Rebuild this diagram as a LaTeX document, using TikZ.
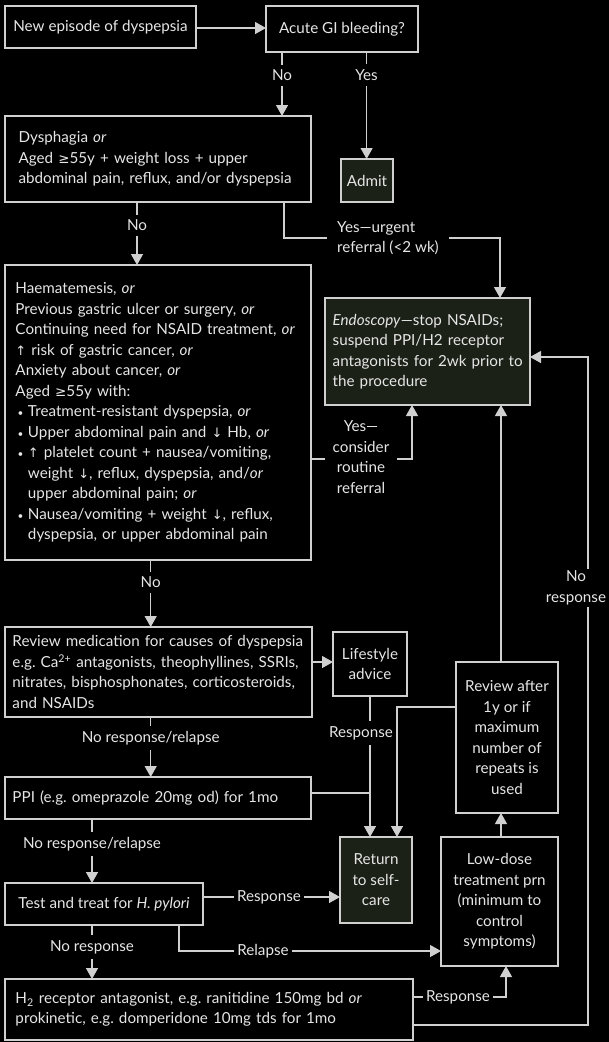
\documentclass[tikz,border=0pt]{standalone}
\usepackage{fontspec}
\setmainfont{Lato}
\newfontfamily\symf{DejaVu Sans}
\usetikzlibrary{arrows.meta}
\frenchspacing
\definecolor{ln}{HTML}{D0D0D0}
\definecolor{tx}{HTML}{E6E6E6}
\definecolor{grn}{HTML}{1B2117}
\newcommand{\upar}{{\symf\fontsize{13}{13}\selectfont ↑}}
\newcommand{\dnar}{{\symf\fontsize{13}{13}\selectfont ↓}}
\newcommand{\gesym}{{\symf\fontsize{13.5}{13.5}\selectfont ≥}}
\newcommand{\bul}{\makebox[12.5pt][l]{\hspace{2pt}{\fontsize{10}{10}\selectfont •}}}
\newcommand{\ind}{\hspace*{12.5pt}}
\tikzset{
  box/.style={draw=ln, line width=1.3pt, text=tx, outer sep=0pt, align=center,
    font=\fontsize{15.2}{20.5}\selectfont\frenchspacing},
  gbox/.style={box, fill=grn},
  lbl/.style={fill=black, text=tx, inner xsep=3pt, inner ysep=5pt,
    font=\fontsize{15.2}{20.5}\selectfont\frenchspacing},
  conn/.style={draw=ln, line width=1.3pt},
  arr/.style={conn, -{Triangle[length=11pt,width=12pt]}},
}
\begin{document}
\begin{tikzpicture}[x=1pt,y=-1pt]
\fill[black] (0,0) rectangle (609,1042);
\useasboundingbox (0,0) rectangle (609,1042);

% boxes
\node[box, minimum width=191pt, minimum height=42pt] (new) at (100.5,27) {New episode of dyspepsia};
\node[box, minimum width=152pt, minimum height=46pt] (acute) at (342,29) {Acute GI bleeding?};
\node[box, align=left, inner xsep=13.6pt, text width=278.8pt, minimum height=86pt] (dysph) at (158,159)
  {\mbox{Dysphagia \textit{or}}\\\mbox{Aged \gesym55y + weight loss + upper}\\\mbox{abdominal pain, reflux, and/or dyspepsia}};
\node[gbox, minimum width=52pt, minimum height=43pt, inner sep=0pt] (admit) at (367,180.5) {Admit};
\node[box, align=left, inner xsep=10.5pt, text width=285pt, minimum height=295pt] (haem) at (158,412.5)
  {\mbox{Haematemesis, \textit{or}}\\
   \mbox{Previous gastric ulcer or surgery, \textit{or}}\\
   \mbox{Continuing need for NSAID treatment, \textit{or}}\\
   \mbox{\upar{} risk of gastric cancer, \textit{or}}\\
   \mbox{Anxiety about cancer, \textit{or}}\\
   \mbox{Aged \gesym55y with:}\\
   \mbox{\bul Treatment-resistant dyspepsia, \textit{or}}\\
   \mbox{\bul Upper abdominal pain and \dnar{} Hb, \textit{or}}\\
   \mbox{\bul \upar{} platelet count + nausea/vomiting,}\\
   \mbox{\ind weight \dnar, reflux, dyspepsia, and/\textit{or}}\\
   \mbox{\ind upper abdominal pain; \textit{or}}\\
   \mbox{\bul Nausea/vomiting + weight \dnar, reflux,}\\
   \mbox{\ind dyspepsia, or upper abdominal pain}};
\node[gbox, align=left, inner xsep=7.7pt, text width=189.6pt, minimum height=107pt] (endo) at (427.5,351.5)
  {\mbox{\textit{Endoscopy}---stop NSAIDs;}\\\mbox{suspend PPI/H2 receptor}\\\mbox{antagonists for 2wk prior to}\\\mbox{the procedure}};
\node[box, align=left, inner xsep=7.4pt, text width=292pt, minimum height=90pt] (review) at (158.5,672)
  {\mbox{Review medication for causes of dyspepsia}\\\mbox{e.g. Ca\textsuperscript{2+} antagonists, theophyllines, SSRIs,}\\\mbox{nitrates, bisphosphonates, corticosteroids,}\\\mbox{and NSAIDs}};
\node[box, minimum width=74pt, minimum height=64pt, inner sep=0pt] (life) at (370,664) {Lifestyle\\advice};
\node[box, align=left, inner xsep=7.4pt, text width=291pt, minimum height=42pt] (ppi) at (158,798)
  {\mbox{PPI (e.g. omeprazole 20mg od) for 1mo}};
\node[box, minimum width=102pt, minimum height=151pt, inner sep=0pt] (revafter) at (507,737.5)
  {Review after\\1y or if\\maximum\\number of\\repeats is\\used};
\node[gbox, minimum width=72pt, minimum height=86pt, inner sep=0pt] (ret) at (376,880) {Return\\to self-\\care};
\node[box, minimum width=117pt, minimum height=129pt, inner sep=0pt] (low) at (499.5,901.5)
  {Low-dose\\treatment prn\\(minimum to\\control\\symptoms)};
\node[box, minimum width=198pt, minimum height=42pt] (test) at (104,904) {Test and treat for \textit{H. pylori}};
\node[box, align=left, inner xsep=10.5pt, text width=387pt, minimum height=61pt] (h2) at (209,1009.5)
  {\mbox{H\textsubscript{2} receptor antagonist, e.g. ranitidine 150mg bd \textit{or}}\\\mbox{prokinetic, e.g. domperidone 10mg tds for 1mo}};

% connectors
\draw[arr] (new.east |- 0,28) -- (acute.west |- 0,28);
\draw[arr] (acute.south -| 282,0) -- (dysph.north -| 282,0);
\node[lbl] (lno1) at (282,75) {No};
\draw[arr] (acute.south -| 366.6,0) -- (admit.north -| 366.6,0);
\node[lbl] (lyes1) at (366.6,75) {Yes};

\draw[arr] (dysph.south -| 137,0) -- (haem.north -| 137,0);
\node[lbl] (lno2) at (137,225) {No};

\draw[arr] (dysph.south -| 284,0) |- (500,238) -- (endo.north -| 500,0);
\node[lbl, align=left, inner xsep=10pt, inner ysep=2pt] (lurg) at (388,238) {Yes---urgent\\referral (<2 wk)};

\draw[arr] (haem.east |- 0,459) -| (endo.south -| 412,0);
\node[lbl, align=center, inner xsep=8pt, inner ysep=2pt] (lrout) at (361,457) {Yes---\\consider\\routine\\referral};

\draw[arr] (haem.south -| 150.7,0) -- (review.north -| 150.7,0);
\node[lbl] (lno3) at (150.7,582) {No};

\draw[arr] (review.east |- 0,662) -- (life.west |- 0,662);

\draw[arr] (life.south -| 370,0) -- (ret.north -| 370,0);
\node[lbl] (lresp1) at (361,733) {Response};
\draw[conn] (ppi.east |- 0,793) -- (370,793);

\draw[arr] (review.south -| 150.7,0) -- (ppi.north -| 150.7,0);
\node[lbl] (lnr1) at (150.7,738) {No response/relapse};

\draw[arr] (revafter.west |- 0,707) -| (ret.north -| 397,0);
\draw[arr] (revafter.north -| 501,0) -- (endo.south -| 501,0);
\draw[arr] (low.north -| 501,0) -- (revafter.south -| 501,0);

\draw[arr] (ppi.south -| 92,0) -- (test.north -| 92,0);
\node[lbl] (lnr2) at (92,844) {No response/relapse};

\draw[arr] (test.east |- 0,897) -- (ret.west |- 0,897);
\node[lbl] (lresp2) at (269,897) {Response};

\draw[arr] (test.south -| 179,0) |- (low.west |- 0,951);
\node[lbl] (lrel) at (263,951) {Relapse};

\draw[arr] (test.south -| 92,0) -- (h2.north -| 92,0);
\node[lbl] (lnr3) at (92,947) {No response};

\draw[arr] (h2.east |- 0,997) -| (low.south -| 506,0);
\node[lbl] (lresp3) at (458,997) {Response};

\draw[arr] (h2.east |- 0,1025) -| (588,357) -- (endo.east |- 0,357);
\node[lbl, align=center, inner ysep=2pt] (lnr4) at (576,588) {No\\response};
\end{tikzpicture}
\end{document}
